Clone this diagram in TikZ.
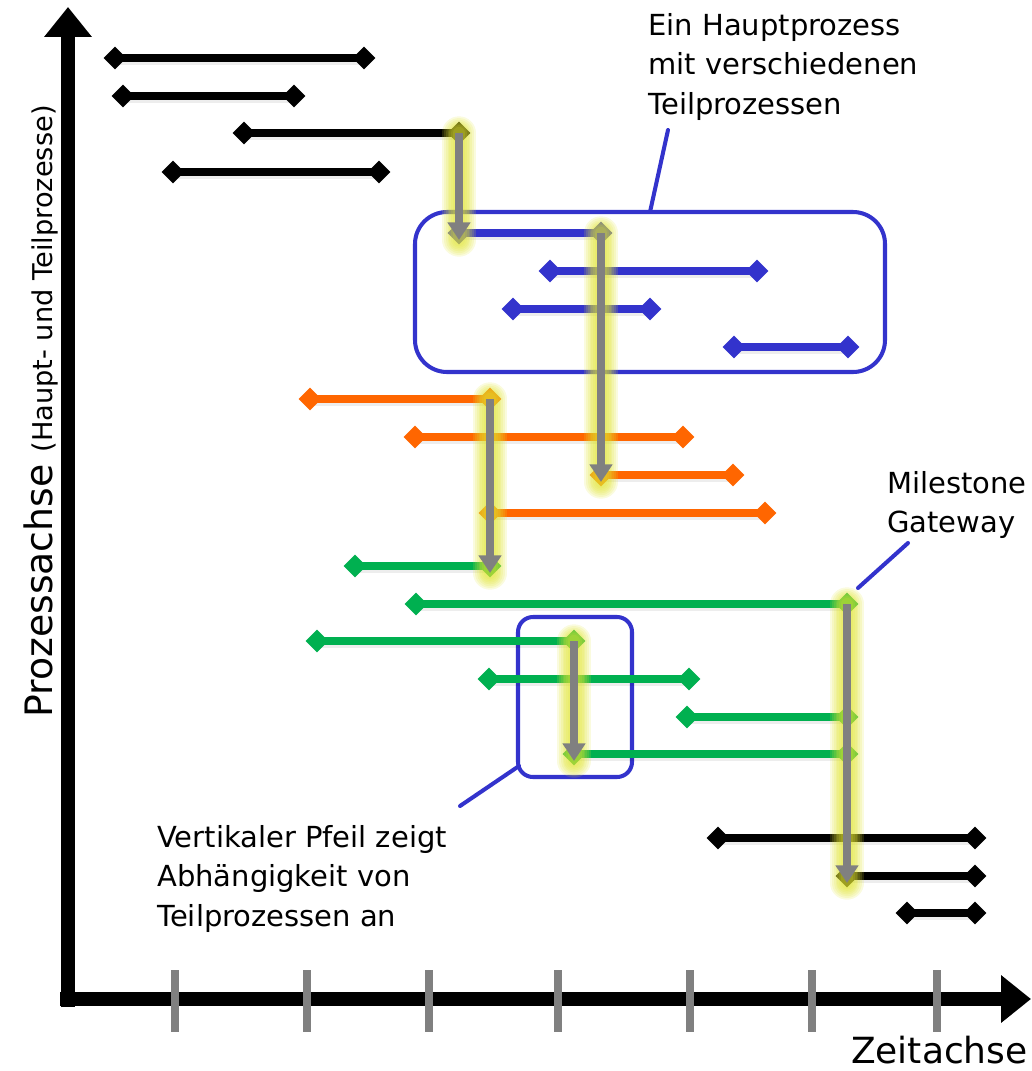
\documentclass[tikz,border=0pt]{standalone}
\usepackage{fontspec}
\setmainfont{DejaVu Sans}
\usetikzlibrary{arrows.meta,shapes.geometric,fit}
\definecolor{ProcBlue}{HTML}{3333CC}
\definecolor{ProcOrange}{HTML}{FF6600}
\definecolor{ProcGreen}{HTML}{00B050}
\definecolor{DepGray}{HTML}{808080}
\definecolor{Glow}{HTML}{E0E430}

\tikzset{
  tip/.style={diamond,fill,inner sep=0pt,minimum width=.46cm,minimum height=.46cm},
  bar/.style={line width=4pt},
  barshadow/.style={line width=4pt,black,opacity=.07},
  axis/.style={line width=8.5pt,-{Triangle[width=26pt,length=17pt]}},
  tick/.style={DepGray,line width=4.3pt},
  procbox/.style={draw=ProcBlue,line width=2.3pt,rounded corners=.64cm,inner sep=0pt},
  callout/.style={draw=ProcBlue,line width=2.3pt,line cap=round},
  dep/.style={DepGray,line width=4pt,-{Triangle[width=12.5pt,length=10pt]}},
  glow/.style={Glow,line cap=round,opacity=.16},
  note/.style={align=left,inner sep=0pt,font=\fontsize{16.5}{22.5}\selectfont},
}

\begin{document}
\begin{tikzpicture}[x=.02cm,y=-.02cm]
\useasboundingbox (0,0) rectangle (1031,1071);

% achsen
\draw[axis] (68,1007) -- (68,7);
\draw[axis] (60,999) -- (1031,999);
\foreach \x in {175,307,429,558,690,812,937}
  \draw[tick] (\x,970) -- (\x,1032);

% umrahmungen
\coordinate (h1) at (415,212);
\coordinate (h2) at (885,372);
\node[procbox,fit=(h1)(h2)] (haupt) {};
\coordinate (d1) at (518,617);
\coordinate (d2) at (632,777);
\node[procbox,rounded corners=.3cm,fit=(d1)(d2)] (abh) {};

% prozessbalken: name/farbe/y/start/ende
\foreach \n/\c/\y/\xa/\xb in {
  k1/black/58/115/364, k2/black/96/123/294, k3/black/133/244/459, k4/black/172/173/379,
  b1/ProcBlue/233/459/601, b2/ProcBlue/271/550/757, b3/ProcBlue/309/513/650, b4/ProcBlue/347/734/848,
  o1/ProcOrange/399/310/490, o2/ProcOrange/437/415/683, o3/ProcOrange/475/601/733, o4/ProcOrange/513/490/765,
  g1/ProcGreen/566/355/490, g2/ProcGreen/604/416/847, g3/ProcGreen/641/317/574,
  g4/ProcGreen/679/489/689, g5/ProcGreen/717/687/847, g6/ProcGreen/754/574/847,
  s1/black/838/718/975, s2/black/876/847/975, s3/black/913/907/975}{
  \draw[barshadow] ({\xa+1},{\y+3}) -- ({\xb+1},{\y+3});
  \node[tip,\c] (\n-a) at (\xa,\y) {};
  \node[tip,\c] (\n-b) at (\xb,\y) {};
  \draw[bar,\c] (\n-a.center) -- (\n-b.center);
}

% abhaengigkeiten
\foreach \p/\q in {k3-b/b1-a, b1-b/o3-a, o1-b/g1-b, g3-b/g6-a, g2-b/s2-a}{
  \foreach \w in {19,17,15,13,11,9,7}
    \draw[glow,line width=\w pt] (\p.center) -- ([yshift=-4pt]\q.center);
  \draw[dep] (\p.center) -- ([yshift=-4pt]\q.center);
}

% beschriftungen
\node[note,anchor=north west] (hlabel) at (648,13)
  {Ein Hauptprozess\\mit verschiedenen\\Teilprozessen};
\coordinate (hc) at (668,130);
\coordinate (hf) at (650,212);
\draw[callout] (hc) -- (hf);

\node[note,anchor=north west] (mlabel) at (887,471) {Milestone\\Gateway};
\coordinate (mc) at (908,543);
\coordinate (mf) at (858,588);
\draw[callout] (mc) -- (mf);

\node[note,anchor=north west] (alabel) at (157,825)
  {Vertikaler Pfeil zeigt\\Abhängigkeit von\\Teilprozessen an};
\coordinate (ac) at (519,766);
\coordinate (af) at (460,806);
\draw[callout] (ac) -- (af);

\node[rotate=90,anchor=base west,inner sep=0pt] (ylabel) at (52,718)
  {\fontsize{21.5}{24}\selectfont Prozessachse \fontsize{15.5}{18}\selectfont(Haupt- und Teilprozesse)};
\node[anchor=base east,inner sep=0pt,font=\fontsize{20.5}{24}\selectfont] (xlabel) at (1028,1063) {Zeitachse};
\end{tikzpicture}
\end{document}
